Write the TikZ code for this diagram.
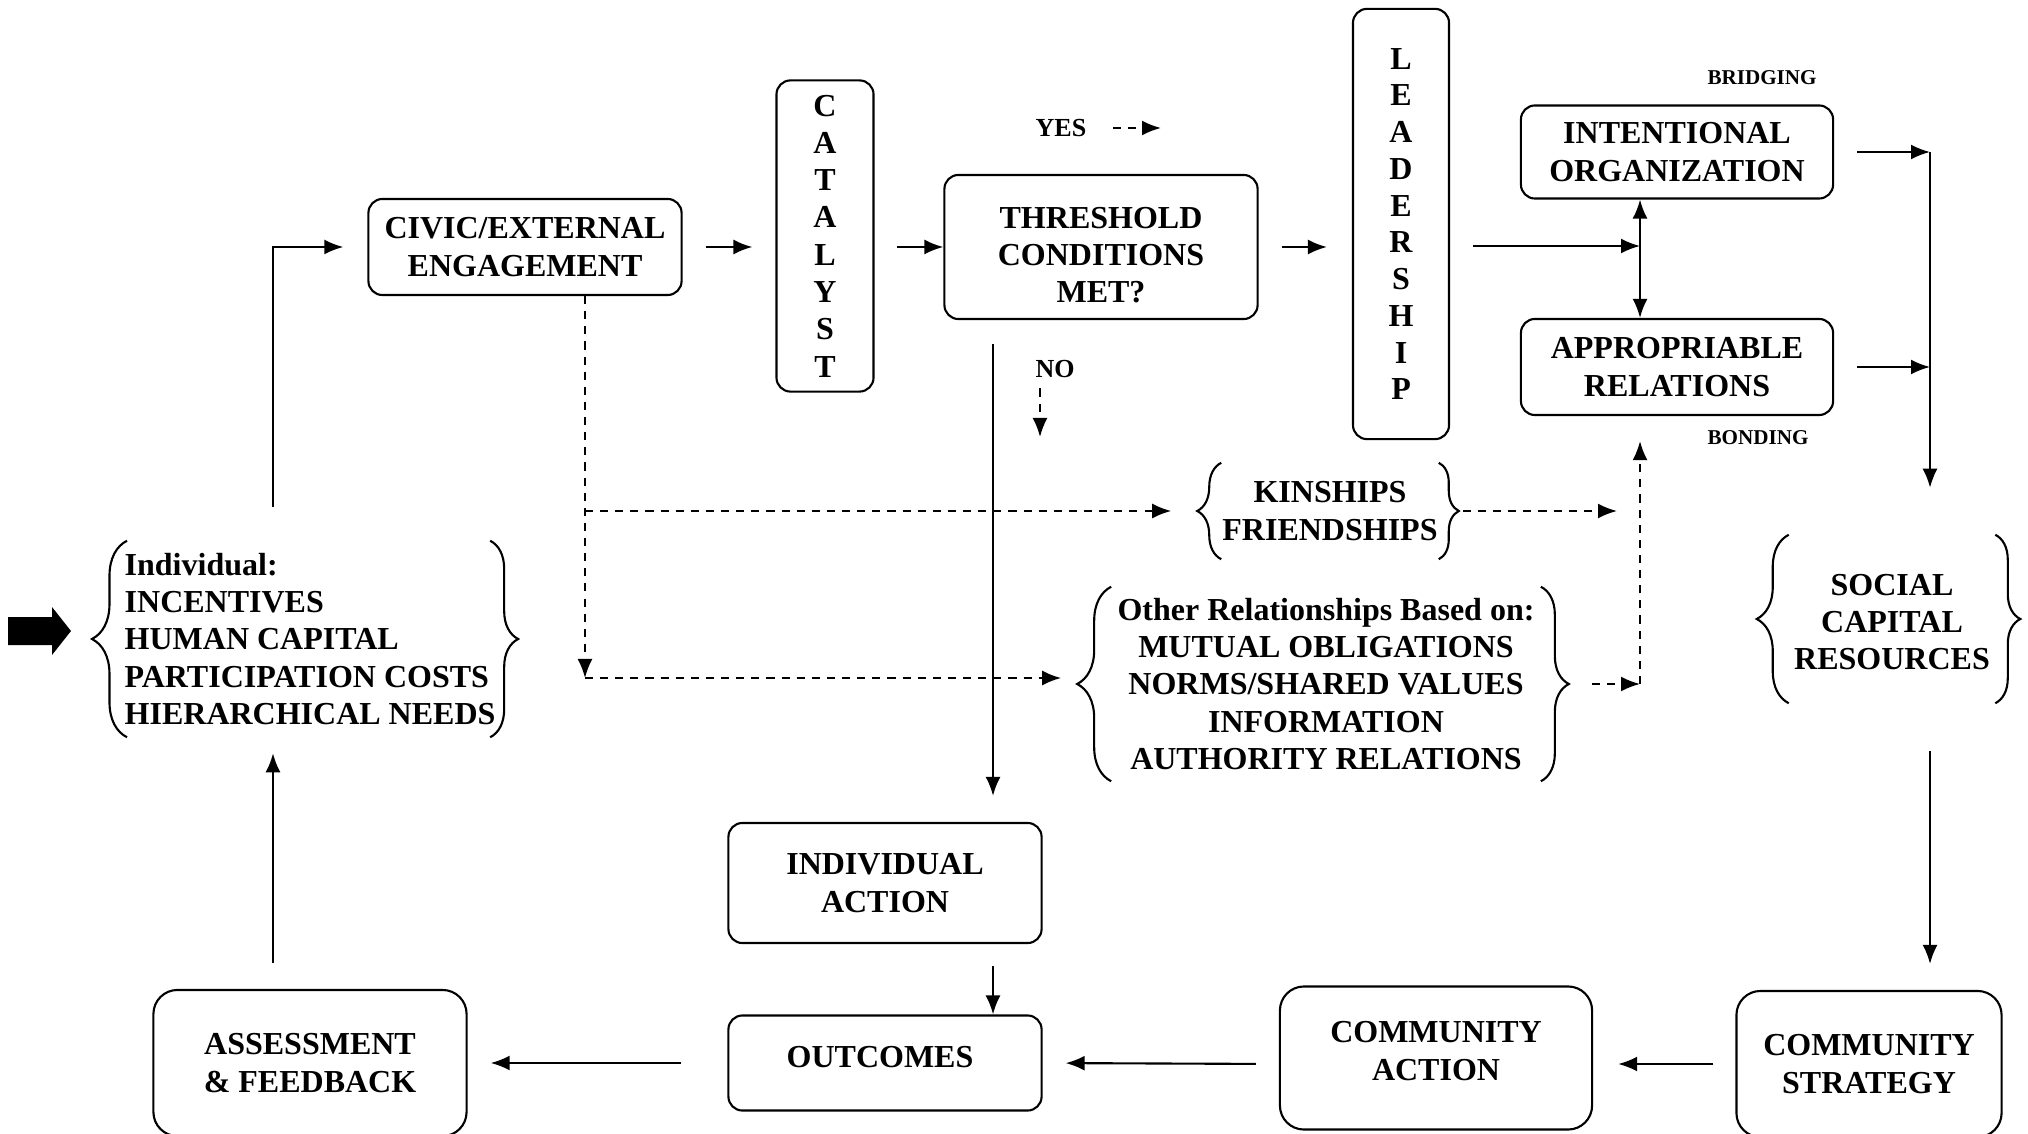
\documentclass[tikz,border=0pt]{standalone}
\usepackage{fontspec}
\setmainfont{Liberation Serif}
\usetikzlibrary{decorations.pathreplacing, arrows.meta}

\newcommand{\boxfont}{\fontsize{9.1}{10.6}\selectfont\bfseries}
\newcommand{\tagfont}{\fontsize{7.4}{8.6}\selectfont\bfseries}
\newcommand{\tinyfont}{\fontsize{6}{7}\selectfont\bfseries}

\tikzstyle{roundbox} = [rectangle, rounded corners=0.14cm, draw=black, line width=0.6pt, inner sep=0pt, align=center, font=\boxfont]
\tikzstyle{bigbox} = [roundbox, rounded corners=0.24cm]
\tikzstyle{bracetext} = [inner sep=0pt, align=center, font=\boxfont]
\tikzstyle{tag} = [inner sep=0pt, font=\tagfont]
\tikzstyle{flow} = [-{Latex[length=0.19cm, width=0.15cm]}, line width=0.6pt]
\tikzstyle{dflow} = [flow, dash pattern=on 2.3pt off 2pt]
\tikzstyle{curly} = [decorate, line width=0.6pt]

\begin{document}
\begin{tikzpicture}[x=0.01cm, y=-0.01cm]
    \useasboundingbox (0,0) rectangle (2028,1134);

    % top row
    \node (civic)    [roundbox, minimum width=3.13cm, minimum height=0.96cm] at (525,247) {CIVIC/EXTERNAL\\ENGAGEMENT};
    \node (catalyst) [roundbox, minimum width=0.97cm, minimum height=3.11cm] at (825,236) {C\\A\\T\\A\\L\\Y\\S\\T};
    \node (thresh)   [roundbox, minimum width=3.13cm, minimum height=1.44cm,
                      label={[align=center, font=\boxfont, yshift=-0.08cm]center:THRESHOLD\\CONDITIONS\\MET?}] at (1101,247) {};
    \node (lead)     [roundbox, minimum width=0.96cm, minimum height=4.30cm, font=\fontsize{9.1}{10.45}\selectfont\bfseries] at (1401,224) {L\\E\\A\\D\\E\\R\\S\\H\\I\\P};
    \node (intorg)   [roundbox, minimum width=3.12cm, minimum height=0.93cm] at (1677,152) {INTENTIONAL\\ORGANIZATION};
    \node (approp)   [roundbox, minimum width=3.12cm, minimum height=0.96cm] at (1677,367) {APPROPRIABLE\\RELATIONS};

    \node (yes)      [tag] at (1061,128) {YES};
    \node (no)       [tag] at (1055,369) {NO};
    \node (bridging) [tag, font=\tinyfont] at (1762,78) {BRIDGING};
    \node (bonding)  [tag, font=\tinyfont] at (1758,438) {BONDING};

    % brace groups
    \node (indiv) [bracetext, align=left, anchor=west, minimum height=1.95cm] at (124,639) {Individual:\\INCENTIVES\\HUMAN CAPITAL\\PARTICIPATION COSTS\\HIERARCHICAL NEEDS};
    \node (kin)   [bracetext, minimum width=2.16cm, minimum height=0.95cm] at (1330,511) {KINSHIPS\\FRIENDSHIPS};
    \node (orb)   [bracetext, minimum width=4.28cm, minimum height=1.93cm] at (1326,684) {Other Relationships Based on:\\MUTUAL OBLIGATIONS\\NORMS/SHARED VALUES\\INFORMATION\\AUTHORITY RELATIONS};
    \node (scr)   [bracetext, minimum width=2.05cm, minimum height=1.67cm] at (1892,622) {SOCIAL\\CAPITAL\\RESOURCES};

    % bottom rows
    \node (ia)     [roundbox, minimum width=3.13cm, minimum height=1.20cm] at (885,883) {INDIVIDUAL\\ACTION};
    \node (outc)   [roundbox, minimum width=3.13cm, minimum height=0.95cm,
                    label={[font=\boxfont, xshift=-0.05cm, yshift=0.06cm]center:OUTCOMES}] at (885,1063) {};
    \node (cstrat) [bigbox, minimum width=2.65cm, minimum height=1.46cm] at (1869,1064) {COMMUNITY\\STRATEGY};
    \node (cact)   [bigbox, minimum width=3.12cm, minimum height=1.43cm,
                    label={[align=center, font=\boxfont, yshift=0.07cm]center:COMMUNITY\\ACTION}] at (1436,1058) {};
    \node (assess) [bigbox, minimum width=3.13cm, minimum height=1.46cm] at (310,1063) {ASSESSMENT\\\& FEEDBACK};

    \coordinate (lcol) at (273,0);
    \coordinate (ncol) at (993,0);
    \coordinate (dcol) at (585,0);
    \coordinate (rcol) at (1930,0);
    \coordinate (split) at (1640,246);
    \coordinate (dlow) at (585,678);
    \coordinate (yesend) at (1161,128);
    \coordinate (noend) at (1040,437);

    % input arrow
    \fill (8,617) -- (52,617) -- (52,607) -- (71,631) -- (52,655) -- (52,645) -- (8,645) -- cycle;

    % braces
    \draw [curly, decoration={brace, amplitude=0.35cm}] ([xshift=0.03cm]indiv.south west) -- ([xshift=0.03cm]indiv.north west);
    \draw [curly, decoration={brace, amplitude=0.28cm}] ([xshift=-0.06cm]indiv.north east) -- ([xshift=-0.06cm]indiv.south east);
    \draw [curly, decoration={brace, amplitude=0.24cm}] (kin.south west) -- (kin.north west);
    \draw [curly, decoration={brace, amplitude=0.2cm}] (kin.north east) -- (kin.south east);
    \draw [curly, decoration={brace, amplitude=0.34cm}] (orb.south west) -- (orb.north west);
    \draw [curly, decoration={brace, amplitude=0.28cm}] (orb.north east) -- (orb.south east);
    \draw [curly, decoration={brace, amplitude=0.32cm}] ([yshift=0.03cm]scr.south west) -- ([yshift=0.03cm]scr.north west);
    \draw [curly, decoration={brace, amplitude=0.25cm}] ([yshift=0.03cm]scr.north east) -- ([yshift=0.03cm]scr.south east);

    % solid flow
    \draw [flow, shorten <=0.23cm, shorten >=0.23cm] (civic.east) -- (civic.east -| catalyst.west);
    \draw [flow, shorten <=0.22cm] (catalyst.east |- civic.east) -- (thresh.west);
    \draw [flow, shorten <=0.23cm, shorten >=0.25cm] (thresh.east) -- (thresh.east -| lead.west);
    \draw [flow, shorten <=0.23cm] (lead.east |- split) -- (split);
    \draw [{Latex[length=0.19cm, width=0.15cm]}-{Latex[length=0.19cm, width=0.15cm]}, line width=0.6pt] (split |- intorg.south) -- (split |- approp.north);
    \draw [flow, shorten <=0.23cm] (intorg.east) -- (intorg.east -| rcol);
    \draw [flow, shorten <=0.23cm] (approp.east) -- (approp.east -| rcol);
    \draw [flow, shorten >=0.50cm] (intorg.east -| rcol) -- (rcol |- scr.north);
    \draw [flow, shorten <=0.45cm, shorten >=0.26cm] (rcol |- scr.south) -- (rcol |- cstrat.north);
    \draw [flow, shorten <=0.22cm, shorten >=0.25cm] (cstrat.west) -- (cstrat.west -| cact.east);
    \draw [flow, shorten <=0.23cm, shorten >=0.23cm] (cact.west |- cstrat.west) -- (outc.east);
    \draw [flow, shorten <=0.46cm, shorten >=0.23cm] (outc.west) -- (outc.west -| assess.east);
    \draw [flow, shorten <=0.26cm, shorten >=0.16cm] (lcol |- assess.north) -- (lcol |- indiv.south);
    \draw [flow, shorten <=0.34cm, shorten >=0.24cm] (lcol |- indiv.north) |- (civic.west);
    \draw [flow, shorten <=0.24cm, shorten >=0.26cm] (ncol |- thresh.south) -- (ncol |- ia.north);
    \draw [flow, shorten <=0.22cm] (ncol |- ia.south) -- (ncol |- outc.north);

    % dashed flow
    \draw [dflow] (dcol |- civic.south) -- (dlow);
    \draw [dflow, shorten >=0.50cm] (dlow) -- (dlow -| orb.west);
    \draw [dflow, shorten >=0.50cm] (dcol |- kin.west) -- (kin.west);
    \draw [dflow, shorten <=0.24cm, shorten >=0.23cm] (kin.east) -- (kin.east -| split);
    \draw [dflow, shorten <=0.51cm] (orb.east) -- (orb.east -| split);
    \draw [dflow, shorten >=0.25cm] (orb.east -| split) -- (split |- approp.south);
    \draw [dflow, shorten <=0.26cm] (yes.east) -- (yesend);
    \draw [dflow, shorten <=0.1cm] (no.south -| noend) -- (noend);
\end{tikzpicture}
\end{document}
